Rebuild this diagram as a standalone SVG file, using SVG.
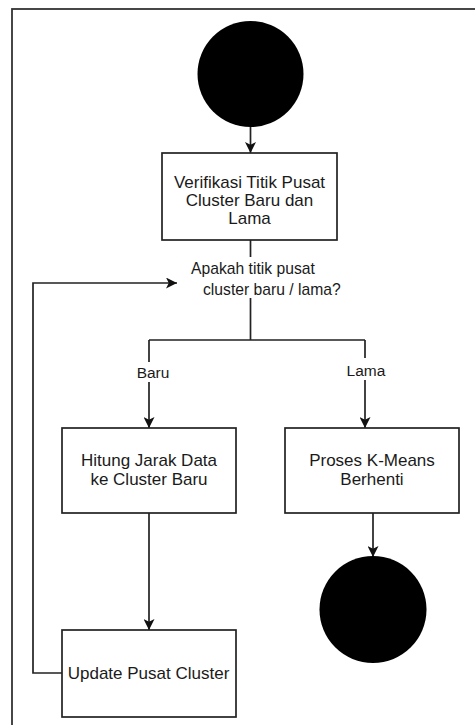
<svg xmlns="http://www.w3.org/2000/svg" width="475" height="725" viewBox="0 0 475 725">
<style>
.box{fill:#fff;stroke:#222;stroke-width:1.7}
.t{font-family:"Liberation Sans",Arial,sans-serif;font-size:17px;fill:#1a1a1a;text-anchor:middle}
.d{font-family:"Liberation Sans",Arial,sans-serif;font-size:15.7px;fill:#1a1a1a}
.lbl{font-family:"Liberation Sans",Arial,sans-serif;font-size:15.5px;fill:#1a1a1a;text-anchor:middle}
.c{fill:none;stroke:#222;stroke-width:1.7}
</style>
<defs>
<marker id="ah" viewBox="0 0 10 10" refX="10" refY="5" markerWidth="11" markerHeight="11" markerUnits="userSpaceOnUse" orient="auto">
<path d="M0,0 L10,5 L0,10 L2.5,5 z" fill="#111"/>
</marker>
</defs>
<rect x="12" y="9" width="480" height="730" fill="#fff" stroke="#333" stroke-width="1.8"/>
<g id="connectors">
<path class="c" d="M250.5,127 V153" marker-end="url(#ah)"/>
<path class="c" d="M250.5,240 V257"/>
<path class="c" d="M250.5,298 V340 M149,340 H365"/>
<path class="c" d="M149,340 V362"/>
<path class="c" d="M149,382 V428" marker-end="url(#ah)"/>
<path class="c" d="M365,340 V358"/>
<path class="c" d="M365,380 V428" marker-end="url(#ah)"/>
<path class="c" d="M149,513 V630" marker-end="url(#ah)"/>
<path class="c" d="M373,513 V557" marker-end="url(#ah)"/>
<path class="c" d="M62,673 H33 V283 H177" marker-end="url(#ah)"/>
<text class="lbl" x="153" y="377.5">Baru</text>
<text class="lbl" x="366" y="375.5">Lama</text>
</g>
<g id="start"><circle cx="250.5" cy="74" r="53" fill="#000"/></g>
<g id="verifikasi">
<rect class="box" x="162" y="153" width="175" height="87"/>
<text class="t" x="249.5" y="188">Verifikasi Titik Pusat</text>
<text class="t" x="249.5" y="206">Cluster Baru dan</text>
<text class="t" x="249.5" y="224">Lama</text>
</g>
<g id="decision">
<text class="d" x="191" y="273.5">Apakah titik pusat</text>
<text class="d" x="203" y="294.5">cluster baru / lama?</text>
</g>
<g id="hitung">
<rect class="box" x="62" y="428" width="174" height="85"/>
<text class="t" x="149" y="466">Hitung Jarak Data</text>
<text class="t" x="149" y="485">ke Cluster Baru</text>
</g>
<g id="proses">
<rect class="box" x="285" y="428" width="174" height="85"/>
<text class="t" x="372" y="466">Proses K-Means</text>
<text class="t" x="372" y="485">Berhenti</text>
</g>
<g id="update">
<rect class="box" x="62" y="630" width="174" height="87"/>
<text class="t" x="148.5" y="679">Update Pusat Cluster</text>
</g>
<g id="end"><circle cx="373" cy="609.5" r="53.5" fill="#000"/></g>
</svg>
